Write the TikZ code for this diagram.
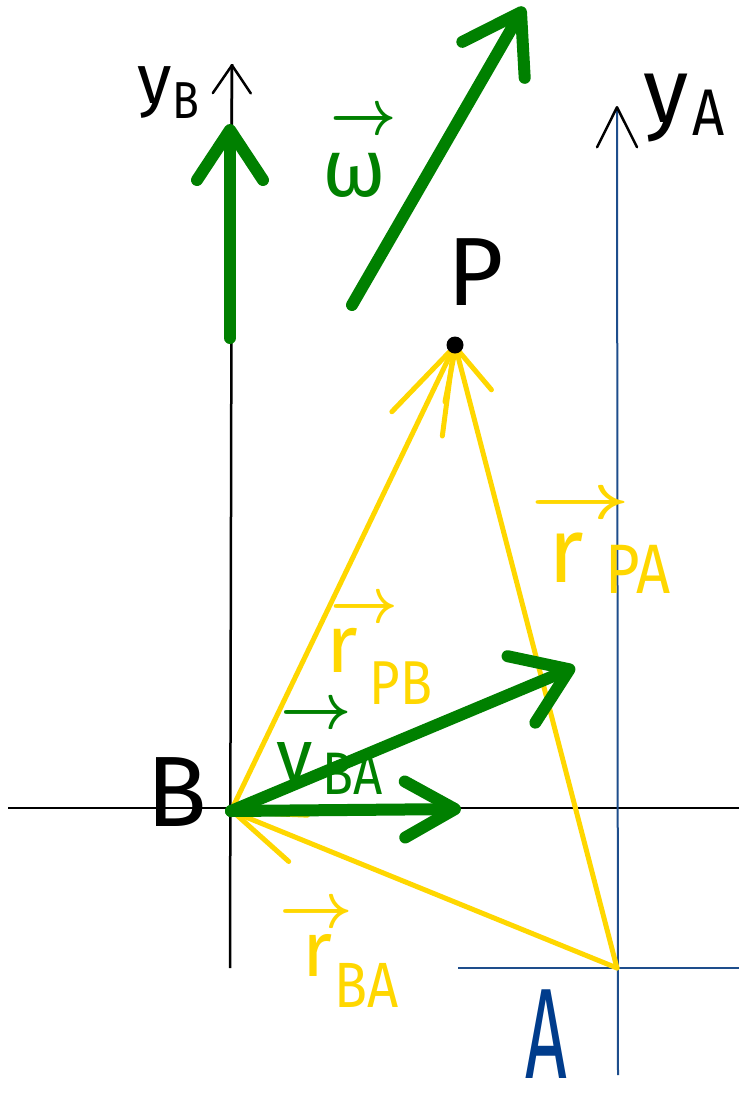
\RequirePackage{fix-cm}
\documentclass[tikz,border=0pt]{standalone}
\usepackage{fontspec}
\setmainfont{Fira Sans}
\usepackage{graphicx}
\usetikzlibrary{arrows.meta}
\definecolor{vgreen}{RGB}{0,128,0}
\definecolor{ryellow}{RGB}{255,215,0}
\definecolor{ablue}{RGB}{30,78,140}
\definecolor{atext}{RGB}{0,60,140}
% vector arrow above a symbol: #1 shift right, #2 raise, #3 horizontal stretch
\newcommand\vecarr[3]{\rlap{\hspace{#1}\raisebox{#2}{\fontsize{64}{64}\selectfont\scalebox{#3}[1]{\boldmath$\rightarrow$}}}}
% subscript: #1 gap, #2 size, #3 drop, #4 text
\newcommand\subl[4]{\hspace{#1}\raisebox{-#3}{\fontsize{#2}{#2}\selectfont\scalebox{0.85}[1]{#4}}}
\begin{document}
\begin{tikzpicture}[x=1pt,y=-1pt,
  axis/.style={line width=2.5pt},
  gvec/.style={vgreen,line width=12pt,line cap=round},
  yvec/.style={ryellow,line width=5pt,line cap=round},
  lab/.style={inner sep=0pt}]
\useasboundingbox (0,0) rectangle (739,1096);
% points
\coordinate (B) at (231,811);
\coordinate (P) at (455,345);
\coordinate (A) at (617,968);
% axis ends
\coordinate (yBbot) at (230,968);
\coordinate (yBtop) at (232,64);
\coordinate (xBl) at (8,808);
\coordinate (xBr) at (739,808);
\coordinate (yAbot) at (618,1075);
\coordinate (yAtop) at (617,106);
\coordinate (xAl) at (458,968);
\coordinate (xAr) at (739,968);
% green vector ends
\coordinate (vBs) at (230,338);
\coordinate (vBe) at (230,124);
\coordinate (ws) at (352,305);
\coordinate (we) at (524,7);
\coordinate (vle) at (575,667);
\coordinate (vhe) at (461,809);
% axes
\draw[axis] (yBbot) -- (yBtop);
\draw[axis,-{Straight Barb[length=28pt,width=38pt,round]}] (vBs) -- (yBtop);
\draw[axis] (xBl) -- (xBr);
\draw[axis,ablue,line width=2pt] (xAl) -- (xAr);
\draw[axis,ablue,line width=2pt,-{Straight Barb[length=40pt,width=40pt,round,color=black,line width=2.5pt]}] (yAbot) -- (yAtop);
% yellow position vectors
\draw[yvec,-{Straight Barb[length=85pt,width=56pt,round]}] (B) -- (P);
\draw[yvec,-{Straight Barb[length=50pt,width=48pt,round]}] (A) -- (P);
\draw[yvec,-{Straight Barb[length=70pt,width=50pt,round]}] (A) -- (B);
% green vectors
\draw[gvec,-{Straight Barb[length=50pt,width=66pt,round]}] (vBs) -- (vBe);
\draw[gvec,-{Straight Barb[length=55pt,width=72pt,round]}] (ws) -- (we);
\draw[gvec,-{Straight Barb[length=52pt,width=72pt,round]}] (B) -- (vle);
\draw[gvec,-{Straight Barb[length=50pt,width=56pt,round]}] (B) -- (vhe);
% point P
\fill (P) circle (8.5pt);
% labels
\node[lab,anchor=base west] (lyB) at (137,103) {\fontsize{70}{70}\selectfont y\subl{1pt}{52}{15pt}{B}};
\node[lab,anchor=base west] (lyA) at (643,122) {\fontsize{92}{92}\selectfont y\subl{4pt}{66}{13pt}{A}};
\node[lab,anchor=base] (lP) at (476,305) {\fontsize{97}{97}\selectfont P};
\node[lab,anchor=base] (lB) at (177,826) {\fontsize{100}{100}\selectfont B};
\node[lab,anchor=base,text=atext] (lA) at (546,1078) {\fontsize{112}{112}\selectfont\scalebox{0.65}[1.15]{A}};
\node[lab,anchor=base west,text=vgreen] (lw) at (322,196) {\fontsize{82}{82}\selectfont\vecarr{8pt}{62pt}{0.9}ω};
\node[lab,anchor=base west,text=ryellow] (lrPB) at (326,672) {\fontsize{82}{82}\selectfont\vecarr{4pt}{50pt}{0.92}r\subl{12pt}{62}{32pt}{PB}};
\node[lab,anchor=base west,text=vgreen] (lvBA) at (276,781) {\fontsize{74}{74}\selectfont\vecarr{4pt}{53pt}{0.97}v\subl{10pt}{60}{13pt}{BA}};
\node[lab,anchor=base west,text=ryellow] (lrPA) at (548,582) {\fontsize{92}{92}\selectfont\vecarr{-18pt}{64pt}{1.36}r\subl{22pt}{70}{11pt}{PA}};
\node[lab,anchor=base west,text=ryellow] (lrBA) at (302,976) {\fontsize{78}{78}\selectfont\vecarr{-23pt}{49pt}{1.0}r\subl{2pt}{64}{31pt}{BA}};
\end{tikzpicture}
\end{document}
